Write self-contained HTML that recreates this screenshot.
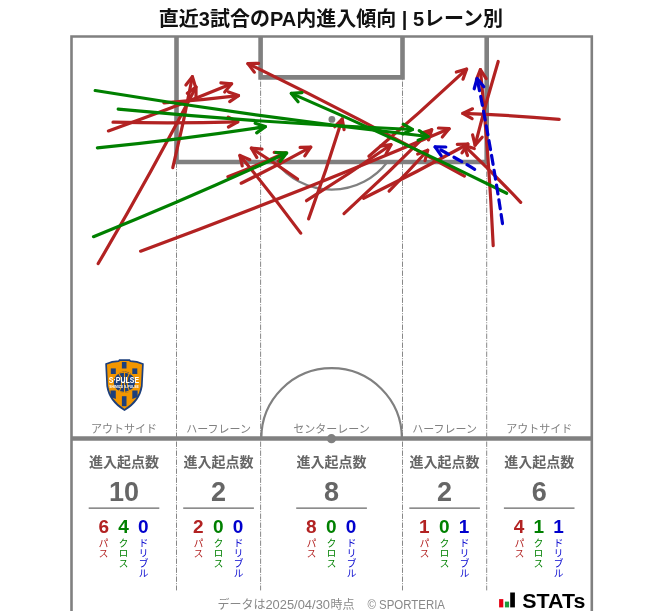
<!DOCTYPE html>
<html><head><meta charset="utf-8"><style>
html,body{margin:0;padding:0;background:#fff;}
#w{position:relative;width:663px;height:611px;overflow:hidden;}
svg{position:absolute;left:0;top:0;will-change:transform;}
.t{font-family:"Liberation Sans","Noto Sans CJK JP",sans-serif;font-weight:bold;font-size:20px;fill:#111;}
.lab{font-family:"Liberation Sans","Noto Sans CJK JP",sans-serif;font-size:11px;fill:#808080;text-anchor:middle;}
.hd{font-family:"Liberation Sans","Noto Sans CJK JP",sans-serif;font-weight:bold;font-size:14px;fill:#666;text-anchor:middle;}
.big{font-family:"Liberation Sans","Noto Sans CJK JP",sans-serif;font-weight:bold;font-size:27px;fill:#666;text-anchor:middle;}
.sm{font-family:"Liberation Sans","Noto Sans CJK JP",sans-serif;font-weight:bold;font-size:19px;text-anchor:middle;}
.ft{font-family:"Liberation Sans","Noto Sans CJK JP",sans-serif;font-size:12px;fill:#888;}
.v{will-change:transform;position:absolute;top:537.6px;width:12px;writing-mode:vertical-rl;font-family:"Liberation Sans","Noto Sans CJK JP",sans-serif;font-size:10px;line-height:12px;}
</style></head><body><div id="w">
<svg width="663" height="611" viewBox="0 0 663 611">
<text x="331" y="26" class="t" text-anchor="middle">直近3試合のPA内進入傾向 | 5レーン別</text>

<line x1="176.5" y1="36.5" x2="176.5" y2="590.4" stroke="#888" stroke-width="1" stroke-dasharray="5.4 1.3 1 1.3"/><line x1="260.6" y1="36.5" x2="260.6" y2="590.4" stroke="#888" stroke-width="1" stroke-dasharray="5.4 1.3 1 1.3"/><line x1="402.5" y1="36.5" x2="402.5" y2="590.4" stroke="#888" stroke-width="1" stroke-dasharray="5.4 1.3 1 1.3"/><line x1="486.7" y1="36.5" x2="486.7" y2="590.4" stroke="#888" stroke-width="1" stroke-dasharray="5.4 1.3 1 1.3"/>
<path d="M71.5 620V36.5H591.8V620" stroke="#808080" stroke-width="2.6" fill="none"/>
<path d="M176.5 36.5V162.0H486.7V36.5" stroke="#808080" stroke-width="4.6" fill="none"/>
<path d="M260.6 36.5V77.4H402.5V36.5" stroke="#808080" stroke-width="4.6" fill="none"/>
<circle cx="331.9" cy="119.4" r="3.4" fill="#808080"/>
<path d="M275.9 162.0A70.2 70.2 0 0 0 387.4 162.0" stroke="#808080" stroke-width="2.2" fill="none"/>
<path d="M261.3 438.5A70.3 70.3 0 0 1 401.9 438.5" stroke="#808080" stroke-width="2.2" fill="none"/>
<line x1="71.5" y1="438.5" x2="591.8" y2="438.5" stroke="#808080" stroke-width="4.6"/>
<circle cx="331.5" cy="438.7" r="4.6" fill="#808080"/>

<path d="M98.2 263.5Q149.4 176.5 196.0 87.0" stroke="#b22222" stroke-width="3.2" fill="none" stroke-linecap="round"/>
<path d="M196.0 97.7L196.0 87.0L187.3 93.2" stroke="#b22222" stroke-width="3.2" fill="none" stroke-linecap="round" stroke-linejoin="round"/>
<path d="M172.8 167.6Q183.8 122.4 192.4 76.7" stroke="#b22222" stroke-width="3.2" fill="none" stroke-linecap="round"/>
<path d="M195.5 86.9L192.4 76.7L185.9 85.1" stroke="#b22222" stroke-width="3.2" fill="none" stroke-linecap="round" stroke-linejoin="round"/>
<path d="M108.4 130.9Q170.6 109.0 231.6 83.8" stroke="#b22222" stroke-width="3.2" fill="none" stroke-linecap="round"/>
<path d="M224.7 92.0L231.6 83.8L220.9 82.9" stroke="#b22222" stroke-width="3.2" fill="none" stroke-linecap="round" stroke-linejoin="round"/>
<path d="M163.9 102.8Q201.3 100.2 238.5 95.6" stroke="#b22222" stroke-width="3.2" fill="none" stroke-linecap="round"/>
<path d="M229.7 101.6L238.5 95.6L228.5 91.9" stroke="#b22222" stroke-width="3.2" fill="none" stroke-linecap="round" stroke-linejoin="round"/>
<path d="M113.0 122.2Q175.4 123.6 237.8 121.8" stroke="#b22222" stroke-width="3.2" fill="none" stroke-linecap="round"/>
<path d="M228.4 127.0L237.8 121.8L228.2 117.2" stroke="#b22222" stroke-width="3.2" fill="none" stroke-linecap="round" stroke-linejoin="round"/>
<path d="M140.6 251.2Q296.4 194.0 449.1 128.7" stroke="#b22222" stroke-width="3.2" fill="none" stroke-linecap="round"/>
<path d="M442.3 137.0L449.1 128.7L438.4 128.0" stroke="#b22222" stroke-width="3.2" fill="none" stroke-linecap="round" stroke-linejoin="round"/>
<path d="M241.2 183.2Q276.4 166.1 310.7 147.1" stroke="#b22222" stroke-width="3.2" fill="none" stroke-linecap="round"/>
<path d="M304.8 155.9L310.7 147.1L300.1 147.4" stroke="#b22222" stroke-width="3.2" fill="none" stroke-linecap="round" stroke-linejoin="round"/>
<path d="M227.9 176.7Q256.7 165.6 284.9 153.0" stroke="#b22222" stroke-width="3.2" fill="none" stroke-linecap="round"/>
<path d="M278.2 161.3L284.9 153.0L274.2 152.4" stroke="#b22222" stroke-width="3.2" fill="none" stroke-linecap="round" stroke-linejoin="round"/>
<path d="M297.5 179.0Q274.9 163.0 251.4 148.2" stroke="#b22222" stroke-width="3.2" fill="none" stroke-linecap="round"/>
<path d="M262.0 149.1L251.4 148.2L256.8 157.4" stroke="#b22222" stroke-width="3.2" fill="none" stroke-linecap="round" stroke-linejoin="round"/>
<path d="M300.7 233.1Q271.3 193.5 239.9 155.5" stroke="#b22222" stroke-width="3.2" fill="none" stroke-linecap="round"/>
<path d="M249.8 159.7L239.9 155.5L242.2 166.0" stroke="#b22222" stroke-width="3.2" fill="none" stroke-linecap="round" stroke-linejoin="round"/>
<path d="M308.6 218.9Q326.7 169.4 342.2 119.0" stroke="#b22222" stroke-width="3.2" fill="none" stroke-linecap="round"/>
<path d="M344.1 129.6L342.2 119.0L334.7 126.7" stroke="#b22222" stroke-width="3.2" fill="none" stroke-linecap="round" stroke-linejoin="round"/>
<path d="M306.5 200.7Q349.5 173.8 391.0 144.7" stroke="#b22222" stroke-width="3.2" fill="none" stroke-linecap="round"/>
<path d="M386.0 154.1L391.0 144.7L380.4 146.1" stroke="#b22222" stroke-width="3.2" fill="none" stroke-linecap="round" stroke-linejoin="round"/>
<path d="M344.0 213.6Q388.9 172.8 431.7 129.7" stroke="#b22222" stroke-width="3.2" fill="none" stroke-linecap="round"/>
<path d="M428.5 139.9L431.7 129.7L421.6 133.0" stroke="#b22222" stroke-width="3.2" fill="none" stroke-linecap="round" stroke-linejoin="round"/>
<path d="M363.6 198.3Q416.5 172.5 467.9 144.0" stroke="#b22222" stroke-width="3.2" fill="none" stroke-linecap="round"/>
<path d="M462.0 152.8L467.9 144.0L457.3 144.3" stroke="#b22222" stroke-width="3.2" fill="none" stroke-linecap="round" stroke-linejoin="round"/>
<path d="M389.1 191.1Q408.9 171.2 427.7 150.3" stroke="#b22222" stroke-width="3.2" fill="none" stroke-linecap="round"/>
<path d="M425.0 160.6L427.7 150.3L417.7 154.1" stroke="#b22222" stroke-width="3.2" fill="none" stroke-linecap="round" stroke-linejoin="round"/>
<path d="M368.9 156.2Q418.9 113.9 466.6 69.1" stroke="#b22222" stroke-width="3.2" fill="none" stroke-linecap="round"/>
<path d="M463.0 79.2L466.6 69.1L456.3 72.0" stroke="#b22222" stroke-width="3.2" fill="none" stroke-linecap="round" stroke-linejoin="round"/>
<path d="M464.4 176.1Q357.6 117.0 247.9 63.6" stroke="#b22222" stroke-width="3.2" fill="none" stroke-linecap="round"/>
<path d="M258.6 63.3L247.9 63.6L254.3 72.1" stroke="#b22222" stroke-width="3.2" fill="none" stroke-linecap="round" stroke-linejoin="round"/>
<path d="M559.2 119.4Q511.1 115.1 462.8 113.4" stroke="#b22222" stroke-width="3.2" fill="none" stroke-linecap="round"/>
<path d="M472.5 108.8L462.8 113.4L472.1 118.6" stroke="#b22222" stroke-width="3.2" fill="none" stroke-linecap="round" stroke-linejoin="round"/>
<path d="M498.2 61.5Q485.6 103.1 475.1 145.2" stroke="#b22222" stroke-width="3.2" fill="none" stroke-linecap="round"/>
<path d="M472.6 134.8L475.1 145.2L482.2 137.2" stroke="#b22222" stroke-width="3.2" fill="none" stroke-linecap="round" stroke-linejoin="round"/>
<path d="M493.2 245.6Q489.1 157.4 480.4 69.6" stroke="#b22222" stroke-width="3.2" fill="none" stroke-linecap="round"/>
<path d="M486.2 78.6L480.4 69.6L476.4 79.5" stroke="#b22222" stroke-width="3.2" fill="none" stroke-linecap="round" stroke-linejoin="round"/>
<path d="M520.7 202.3Q493.1 173.1 464.0 145.4" stroke="#b22222" stroke-width="3.2" fill="none" stroke-linecap="round"/>
<path d="M474.3 148.5L464.0 145.4L467.5 155.6" stroke="#b22222" stroke-width="3.2" fill="none" stroke-linecap="round" stroke-linejoin="round"/>
<path d="M95.2 90.5Q261.1 117.8 428.1 136.5" stroke="#008000" stroke-width="3.2" fill="none" stroke-linecap="round"/>
<path d="M418.1 140.3L428.1 136.5L419.2 130.6" stroke="#008000" stroke-width="3.2" fill="none" stroke-linecap="round" stroke-linejoin="round"/>
<path d="M118.2 109.2Q265.1 123.2 412.5 129.5" stroke="#008000" stroke-width="3.2" fill="none" stroke-linecap="round"/>
<path d="M402.8 134.0L412.5 129.5L403.2 124.2" stroke="#008000" stroke-width="3.2" fill="none" stroke-linecap="round" stroke-linejoin="round"/>
<path d="M97.4 147.8Q181.6 139.4 265.3 126.6" stroke="#008000" stroke-width="3.2" fill="none" stroke-linecap="round"/>
<path d="M256.7 132.9L265.3 126.6L255.2 123.2" stroke="#008000" stroke-width="3.2" fill="none" stroke-linecap="round" stroke-linejoin="round"/>
<path d="M93.5 236.7Q191.1 197.4 286.6 153.0" stroke="#008000" stroke-width="3.2" fill="none" stroke-linecap="round"/>
<path d="M280.1 161.4L286.6 153.0L275.9 152.5" stroke="#008000" stroke-width="3.2" fill="none" stroke-linecap="round" stroke-linejoin="round"/>
<path d="M506.7 193.3Q400.3 140.5 291.3 93.4" stroke="#008000" stroke-width="3.2" fill="none" stroke-linecap="round"/>
<path d="M302.0 92.7L291.3 93.4L298.1 101.7" stroke="#008000" stroke-width="3.2" fill="none" stroke-linecap="round" stroke-linejoin="round"/>
<path d="M502.5 223.6Q491.7 150.7 477.1 78.5" stroke="#0000cd" stroke-width="3.2" fill="none" stroke-dasharray="9 6" stroke-linecap="round"/>
<path d="M483.8 86.8L477.1 78.5L474.2 88.8" stroke="#0000cd" stroke-width="3.2" fill="none" stroke-linecap="round" stroke-linejoin="round"/>
<path d="M474.7 169.3Q455.2 157.6 435.1 146.9" stroke="#0000cd" stroke-width="3.2" fill="none" stroke-dasharray="9 6" stroke-linecap="round"/>
<path d="M445.8 147.0L435.1 146.9L441.2 155.7" stroke="#0000cd" stroke-width="3.2" fill="none" stroke-linecap="round" stroke-linejoin="round"/>
<text x="124.0" y="433" class="lab">アウトサイド</text><text x="218.6" y="433" class="lab">ハーフレーン</text><text x="331.6" y="433" class="lab">センターレーン</text><text x="444.6" y="433" class="lab">ハーフレーン</text><text x="539.2" y="433" class="lab">アウトサイド</text>
<text x="124.0" y="467" class="hd">進入起点数</text><text x="124.0" y="501.2" class="big">10</text><line x1="88.7" y1="508.1" x2="159.3" y2="508.1" stroke="#666" stroke-width="1.1"/><text x="103.8" y="533.3" class="sm" fill="#b22222">6</text><text x="123.6" y="533.3" class="sm" fill="#008000">4</text><text x="143.4" y="533.3" class="sm" fill="#0000cd">0</text><text x="218.6" y="467" class="hd">進入起点数</text><text x="218.6" y="501.2" class="big">2</text><line x1="183.2" y1="508.1" x2="253.9" y2="508.1" stroke="#666" stroke-width="1.1"/><text x="198.4" y="533.3" class="sm" fill="#b22222">2</text><text x="218.2" y="533.3" class="sm" fill="#008000">0</text><text x="238.0" y="533.3" class="sm" fill="#0000cd">0</text><text x="331.6" y="467" class="hd">進入起点数</text><text x="331.6" y="501.2" class="big">8</text><line x1="296.2" y1="508.1" x2="366.9" y2="508.1" stroke="#666" stroke-width="1.1"/><text x="311.4" y="533.3" class="sm" fill="#b22222">8</text><text x="331.2" y="533.3" class="sm" fill="#008000">0</text><text x="351.0" y="533.3" class="sm" fill="#0000cd">0</text><text x="444.6" y="467" class="hd">進入起点数</text><text x="444.6" y="501.2" class="big">2</text><line x1="409.3" y1="508.1" x2="479.9" y2="508.1" stroke="#666" stroke-width="1.1"/><text x="424.4" y="533.3" class="sm" fill="#b22222">1</text><text x="444.2" y="533.3" class="sm" fill="#008000">0</text><text x="464.0" y="533.3" class="sm" fill="#0000cd">1</text><text x="539.2" y="467" class="hd">進入起点数</text><text x="539.2" y="501.2" class="big">6</text><line x1="503.9" y1="508.1" x2="574.5" y2="508.1" stroke="#666" stroke-width="1.1"/><text x="519.0" y="533.3" class="sm" fill="#b22222">4</text><text x="538.8" y="533.3" class="sm" fill="#008000">1</text><text x="558.6" y="533.3" class="sm" fill="#0000cd">1</text>

<defs><clipPath id="sc"><path d="M106.1 364Q112 361.5 118.6 361.2L119.5 360.2L129.5 360.2L130.4 361.2Q137 361.5 142.9 364L141.8 386Q139.5 401 124.5 410Q109.5 401 107.2 386Z"/></clipPath></defs>
<path d="M106.1 364Q112 361.5 118.6 361.2L119.5 360.2L129.5 360.2L130.4 361.2Q137 361.5 142.9 364L141.8 386Q139.5 401 124.5 410Q109.5 401 107.2 386Z" fill="#f29600"/>
<g clip-path="url(#sc)" fill="#1c3f7c">
<rect x="121.9" y="362" width="4.6" height="6.5"/>
<rect x="110.8" y="368.4" width="5" height="5.6"/>
<rect x="132.3" y="368.4" width="5" height="5.6"/>
<circle cx="124.5" cy="382.2" r="10.6"/>
<path d="M110.5 390.5L115.8 390.5L115.8 399L110.5 397Z"/>
<path d="M132.3 390.5L137.6 390.5L137.6 397L132.3 399Z"/>
<rect x="121.9" y="396.2" width="4.6" height="10"/>
</g>
<g clip-path="url(#sc)" stroke="#f29600" stroke-width="1.1" fill="none">
<path d="M115 375Q124 369 134 376"/>
<path d="M114.5 389Q124 396 134.5 388"/>
<path d="M118 372Q125 382 119 392"/>
<path d="M130 372Q124 382 130 392"/>
<path d="M124.5 371.6V393"/>
</g>
<path d="M106.1 364Q112 361.5 118.6 361.2L119.5 360.2L129.5 360.2L130.4 361.2Q137 361.5 142.9 364L141.8 386Q139.5 401 124.5 410Q109.5 401 107.2 386Z" fill="none" stroke="#1c3f7c" stroke-width="1.7"/>
<text x="124" y="383.1" font-family="Liberation Sans, sans-serif" font-weight="bold" font-size="9.4" fill="#fff" text-anchor="middle" textLength="30.3" lengthAdjust="spacingAndGlyphs">S·PULSE</text>
<text x="124" y="387.8" font-family="Liberation Sans, sans-serif" font-weight="bold" font-size="3.3" fill="#fff" text-anchor="middle" textLength="29.4" lengthAdjust="spacingAndGlyphs">SHIMIZU S-PULSE</text>

<text y="609" class="ft"><tspan x="217.6">データは</tspan><tspan x="265.4" textLength="64.6" lengthAdjust="spacingAndGlyphs">2025/04/30</tspan><tspan x="330.6">時点</tspan><tspan x="367.4" textLength="77.6" lengthAdjust="spacingAndGlyphs">© SPORTERIA</tspan></text>

<rect x="499.1" y="599.1" width="4.2" height="8.3" fill="#e50012"/>
<rect x="504.9" y="601.6" width="4.2" height="5.8" fill="#1e9b3c"/>
<rect x="510.2" y="592.5" width="4.7" height="14.9" fill="#000"/>
<text x="522.3" y="607.5" font-family="Liberation Sans, sans-serif" font-weight="bold" font-size="19.5" fill="#000" textLength="63" lengthAdjust="spacingAndGlyphs">STATs</text>

</svg>
<div class="v" style="left:96.4px;color:#b22222">パス</div><div class="v" style="left:116.2px;color:#008000">クロス</div><div class="v" style="left:136.0px;color:#0000cd">ドリブル</div><div class="v" style="left:191.0px;color:#b22222">パス</div><div class="v" style="left:210.8px;color:#008000">クロス</div><div class="v" style="left:230.6px;color:#0000cd">ドリブル</div><div class="v" style="left:304.0px;color:#b22222">パス</div><div class="v" style="left:323.8px;color:#008000">クロス</div><div class="v" style="left:343.6px;color:#0000cd">ドリブル</div><div class="v" style="left:417.0px;color:#b22222">パス</div><div class="v" style="left:436.8px;color:#008000">クロス</div><div class="v" style="left:456.6px;color:#0000cd">ドリブル</div><div class="v" style="left:511.6px;color:#b22222">パス</div><div class="v" style="left:531.4px;color:#008000">クロス</div><div class="v" style="left:551.2px;color:#0000cd">ドリブル</div>
</div></body></html>
